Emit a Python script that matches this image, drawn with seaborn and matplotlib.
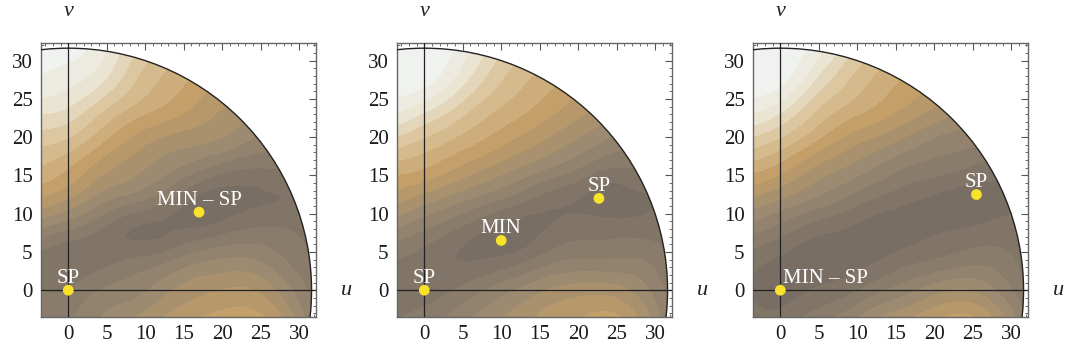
import numpy as np
import matplotlib
matplotlib.use("Agg")
import matplotlib.pyplot as plt
import matplotlib.colors as mcolors
import matplotlib.tri as mtri
import seaborn as sns

u_grid = [-4, 0, 4, 8, 12, 16, 20, 24, 28, 32]
v_grid = [-4, 0, 4, 8, 12, 16, 20, 24, 28, 32]

# rows: v = -4 ... 32, columns: u = -4 ... 32
levels_a = [
    [2.5, 2.5, 3.5, 4.5, 5.5, 6.5, 7.0, 7.0, 5.5, 2.5],
    [1.5, 1.5, 2.5, 3.0, 4.0, 5.0, 5.5, 5.5, 4.0, 2.0],
    [1.0, 0.8, 1.0, 1.5, 2.0, 3.0, 3.5, 3.5, 2.5, 1.5],
    [3.5, 2.5, 1.5, 0.5, 0.3, 0.5, 1.0, 1.5, 1.5, 1.0],
    [6.5, 5.5, 4.0, 3.0, 2.0, 0.5, 0.0, 0.3, 0.5, 0.8],
    [8.5, 7.5, 6.0, 5.0, 4.0, 3.0, 2.0, 1.5, 1.5, 1.0],
    [10.0, 9.5, 8.0, 6.5, 5.5, 5.0, 4.5, 3.5, 2.5, 2.0],
    [12.0, 11.5, 10.0, 8.5, 7.5, 6.5, 5.5, 4.5, 3.5, 3.0],
    [13.5, 13.0, 12.0, 10.0, 8.5, 7.5, 6.5, 5.5, 4.5, 4.0],
    [14.0, 14.0, 13.0, 11.0, 9.5, 8.5, 7.5, 6.5, 5.5, 5.0],
]
levels_b = [
    [1.5, 2.0, 3.0, 4.0, 5.0, 6.0, 6.5, 7.0, 5.5, 2.5],
    [1.0, 1.0, 1.5, 2.5, 3.5, 4.5, 5.0, 5.0, 4.0, 2.0],
    [1.5, 1.0, 0.5, 0.5, 1.0, 2.0, 2.5, 2.5, 2.5, 1.5],
    [3.5, 2.5, 1.5, 0.5, 0.0, 0.5, 1.0, 1.0, 1.0, 1.0],
    [6.0, 5.0, 4.0, 3.0, 2.0, 1.0, 0.5, 0.0, 0.3, 0.8],
    [8.0, 7.5, 6.5, 5.5, 4.5, 3.5, 2.5, 1.5, 1.5, 1.0],
    [10.5, 9.5, 8.5, 7.5, 6.5, 5.5, 4.5, 3.5, 2.5, 2.0],
    [13.0, 12.0, 10.5, 9.0, 8.0, 7.0, 6.0, 5.0, 4.0, 3.0],
    [14.0, 14.0, 12.5, 10.5, 9.0, 8.0, 7.0, 6.0, 5.0, 4.0],
    [14.0, 14.0, 13.5, 11.5, 10.0, 9.0, 8.0, 7.0, 6.0, 5.0],
]
levels_c = [
    [1.0, 1.0, 2.0, 3.0, 4.5, 5.5, 6.5, 7.0, 5.5, 2.5],
    [0.5, 0.0, 0.5, 1.0, 2.0, 3.0, 4.0, 4.5, 3.5, 1.5],
    [1.0, 0.3, 0.0, 0.0, 0.3, 1.0, 1.5, 2.0, 2.0, 1.0],
    [3.0, 2.0, 1.0, 0.5, 0.0, 0.0, 0.3, 0.5, 0.8, 0.8],
    [5.5, 4.5, 3.5, 2.5, 1.5, 0.8, 0.3, 0.0, 0.2, 0.5],
    [8.0, 7.0, 5.5, 4.5, 3.5, 2.5, 2.0, 1.5, 1.0, 1.0],
    [10.5, 9.5, 8.0, 6.5, 5.5, 4.5, 3.5, 3.0, 2.5, 2.0],
    [13.0, 12.0, 10.0, 8.5, 7.5, 6.5, 5.5, 4.5, 3.5, 3.0],
    [14.0, 14.0, 12.0, 10.0, 8.5, 7.5, 6.5, 5.5, 4.5, 4.0],
    [14.0, 14.0, 13.5, 11.5, 10.0, 9.0, 8.0, 7.0, 6.0, 5.0],
]

# stationary points per panel: (u, v, label, label placement)
points_a = [(0.0, 0.0, "SP", "above"), (17.0, 10.2, "MIN \u2013 SP", "above")]
points_b = [(0.0, 0.0, "SP", "above"), (10.0, 6.5, "MIN", "above"), (22.7, 12.0, "SP", "above")]
points_c = [(0.0, 0.0, "MIN \u2013 SP", "right"), (25.5, 12.5, "SP", "above")]

radius = np.sqrt(1000)

sns.set_theme(style="white")
plt.rcParams["font.family"] = ["Liberation Serif", "DejaVu Serif"]

anchors = [(0.0, "#786e64"), (0.28, "#9b8971"), (0.5, "#c49f68"),
           (0.72, "#dec8a3"), (0.86, "#eae4d2"), (1.0, "#f0f2f0")]
cmap_full = mcolors.LinearSegmentedColormap.from_list("mma", anchors)
band_colors = sns.color_palette([cmap_full(i / 14) for i in range(15)])
cmap = mcolors.ListedColormap(band_colors)
bounds = np.arange(-0.5, 15.0, 1.0)
norm = mcolors.BoundaryNorm(bounds, cmap.N)

fig = plt.figure(figsize=(10.66, 3.62), dpi=100)
lefts = [41, 397, 753]
panels = [(levels_a, points_a), (levels_b, points_b), (levels_c, points_c)]

U, V = np.meshgrid(u_grid, v_grid)
tri = mtri.Triangulation(U.ravel(), V.ravel())
refiner = mtri.UniformTriRefiner(tri)

for left, (lev, pts) in zip(lefts, panels):
    ax = fig.add_axes([left / 1066, 45 / 362, 275 / 1066, 274 / 362])
    tri_f, z_f = refiner.refine_field(np.array(lev, dtype=float).ravel(), subdiv=3)
    cs = ax.tricontourf(tri_f, z_f, levels=bounds, cmap=cmap, norm=norm, extend="both")
    cs.set_edgecolor("face")
    cs.set_linewidth(0.4)
    disc = plt.Circle((0, 0), radius, transform=ax.transData, facecolor="none", edgecolor="none")
    ax.add_patch(disc)
    cs.set_clip_path(disc)
    ax.add_patch(plt.Circle((0, 0), radius, fill=False, edgecolor="#222222", lw=1.0, zorder=3))

    ax.axhline(0, color="#222222", lw=0.9, zorder=4)
    ax.axvline(0, color="#222222", lw=0.9, zorder=4)

    for (pu, pv, label, where) in pts:
        ax.scatter([pu], [pv], s=60, color="#f8e22a", edgecolors="none", zorder=6)
        if where == "above":
            ax.annotate(label, (pu, pv), xytext=(0, 1.5), textcoords="offset points",
                        ha="center", va="bottom", color="white", fontsize=15, zorder=5)
        else:
            ax.annotate(label, (pu, pv), xytext=(2, 1.5), textcoords="offset points",
                        ha="left", va="bottom", color="white", fontsize=15, zorder=5)

    ax.set_xlim(-3.55, 32.2)
    ax.set_ylim(-3.5, 32.3)
    ax.set_xticks(range(0, 31, 5))
    ax.set_yticks(range(0, 31, 5))
    ax.set_xticks(range(-3, 33), minor=True)
    ax.set_yticks(range(-3, 33), minor=True)
    ax.tick_params(which="both", direction="in", top=True, right=True, bottom=True, left=True,
                   color="#555555", labelsize=15, labelcolor="#1a1a1a")
    ax.tick_params(which="major", length=5, width=0.8, pad=6)
    ax.tick_params(which="minor", length=2.5, width=0.6)
    for sp in ax.spines.values():
        sp.set_color("#666666")
        sp.set_linewidth(1.0)
    ax.set_facecolor("white")

    ax.text(0, 1.08, "v", transform=ax.get_xaxis_transform(), ha="center", va="bottom",
            fontsize=16, style="italic", color="#222222")
    ax.text(1.11, 0, "u", transform=ax.get_yaxis_transform(), ha="center", va="center",
            fontsize=16, style="italic", color="#222222")

fig.savefig("out.png", dpi=100)
